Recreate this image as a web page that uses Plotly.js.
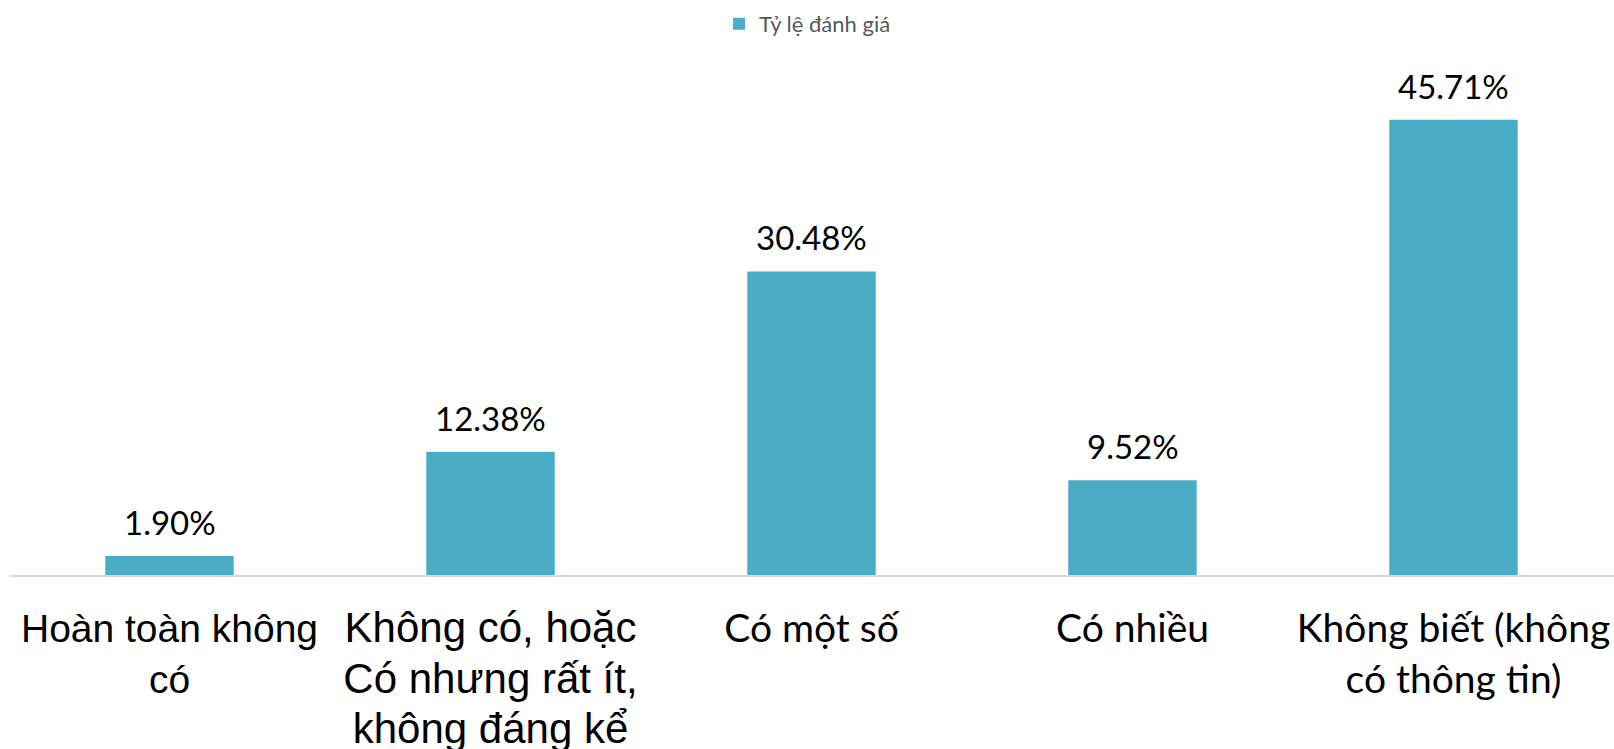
<!DOCTYPE html>
<html>
<head>
<meta charset="utf-8">
<script src="https://cdn.plot.ly/plotly-3.0.1.min.js"></script>
<style>html,body{margin:0;padding:0;background:#fff;}#chart{width:1614px;height:749px;}</style>
</head>
<body>
<div id="chart"></div>
<script>
var categories = ["c1", "c2", "c3", "c4", "c5"];
var tickLabels = [
  "<span style=\"font-family:'Liberation Sans',Arial,sans-serif;font-size:39px\">Hoàn toàn không<br>có</span>",
  "<span style=\"font-family:'Liberation Sans',Arial,sans-serif;font-size:42px\">Không có, hoặc<br>Có nhưng rất ít,<br>không đáng kể</span>",
  "Có một số",
  "Có nhiều",
  "Không biết (không<br>có thông tin)"
];
var values = [1.90, 12.38, 30.48, 9.52, 45.71];
var valueLabels = ["1.90%", "12.38%", "30.48%", "9.52%", "45.71%"];
var seriesName = "Tỷ lệ đánh giá";

var trace = {
  type: "bar",
  x: categories,
  y: values,
  name: seriesName,
  marker: {color: "#4BACC6"},
  hoverinfo: "skip",
  showlegend: true
};

var annotations = categories.map(function (c, i) {
  return {
    x: c, y: values[i], xref: "x", yref: "y",
    text: valueLabels[i], showarrow: false,
    yanchor: "bottom", yshift: 12,
    font: {family: "Lato, sans-serif", size: 33, color: "#000000"}
  };
});

var layout = {
  width: 1614, height: 749,
  margin: {l: 9, r: 0, t: 76.5, b: 173.5, pad: 0},
  paper_bgcolor: "#ffffff",
  plot_bgcolor: "#ffffff",
  bargap: 0.6,
  showlegend: true,
  legend: {
    orientation: "h",
    xref: "paper", x: 0.4424, xanchor: "left",
    yref: "container", y: 1 - 24 / 749, yanchor: "middle",
    font: {family: "Lato, sans-serif", size: 22, color: "#595959"},
    bgcolor: "rgba(0,0,0,0)"
  },
  xaxis: {
    type: "category",
    tickmode: "array",
    tickvals: categories,
    ticktext: tickLabels,
    ticks: "",
    ticklabelstandoff: 18,
    tickfont: {family: "Lato, sans-serif", size: 39, color: "#000000"},
    showline: true,
    linecolor: "#D9D9D9",
    linewidth: 2,
    showgrid: false,
    zeroline: false,
    automargin: false,
    fixedrange: true
  },
  yaxis: {
    range: [0, 50],
    visible: false,
    showgrid: false,
    zeroline: false,
    fixedrange: true
  },
  annotations: annotations
};

Plotly.newPlot("chart", [trace], layout, {displayModeBar: false, staticPlot: true});
</script>
</body>
</html>
